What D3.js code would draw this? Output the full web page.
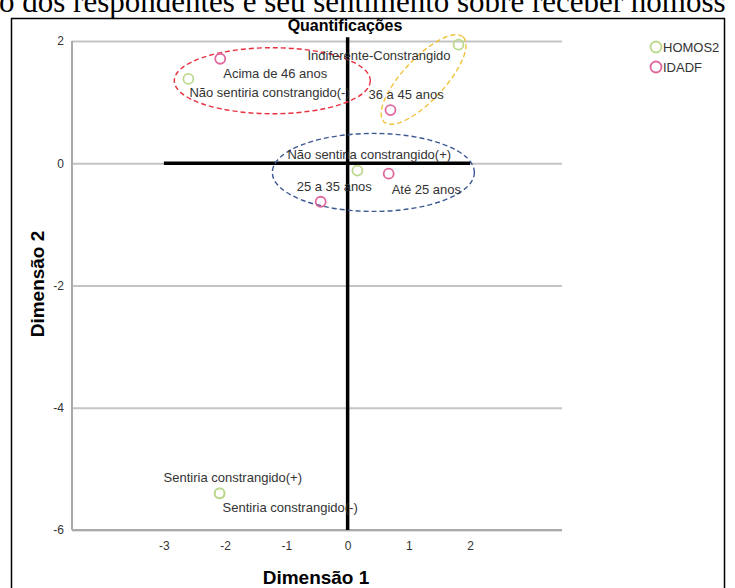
<!DOCTYPE html>
<html><head><meta charset="utf-8">
<script src="https://cdn.jsdelivr.net/npm/d3@7/dist/d3.min.js"></script>
<style>body{margin:0;background:#fff}svg{display:block}</style>
</head><body>
<svg id="c" width="735" height="588"></svg>
<script>
// ---- data ----
const homosLabels = ["Não sentiria constrangido(+)", "Não sentiria constrangido(-)", "Indiferente-Constrangido", "Sentiria constrangido(-)", "Sentiria constrangido(+)"];
const homosDim1 = [0.16, -2.60, 1.81, -2.09, -2.09];
const homosDim2 = [-0.12, 1.38, 1.94, -5.40, -5.40];
const idadLabels = ["Até 25 anos", "25 a 35 anos", "36 a 45 anos", "Acima de 46 anos"];
const idadDim1 = [0.67, -0.44, 0.70, -2.08];
const idadDim2 = [-0.17, -0.63, 0.87, 1.71];
const seriesNames = ["HOMOS2", "IDADF"];
const xTicks = [-3, -2, -1, 0, 1, 2];
const yTicks = [-6, -4, -2, 0, 2];

// ---- styles / label placement (pixels) ----
const colors = {HOMOS2: "#bcd98e", IDADF: "#e0689f"};
const homosOff = [[-70,-12],[1,18],[-151,15],[3,19],[-56,-11]];
const idadOff = [[3,20],[-24,-11],[-22,-11],[3,19]];
const sans = "Liberation Sans, Arial, sans-serif";

const svg = d3.select("#c");
const x = d3.scaleLinear().domain([-4.5, 3.5]).range([72, 562]);
const y = d3.scaleLinear().domain([-6, 2]).range([530, 41]);
const fmt = d => String(d);

// header text (cut off)
svg.append("text").attr("x", -1).attr("y", 12)
  .attr("font-family", "Liberation Serif, Times New Roman, serif").attr("font-size", 31)
  .attr("fill", "#000").text("o dos respondentes e seu sentimento sobre receber homoss");

// frame box
svg.append("rect").attr("x", 11.5).attr("y", 18.5).attr("width", 713).attr("height", 600)
  .attr("fill", "none").attr("stroke", "#000").attr("stroke-width", 1.5);

// gridlines + y axis
const yAxis = svg.append("g").attr("transform", `translate(${x.range()[0]},0)`)
  .call(d3.axisLeft(y).tickValues(yTicks).tickSize(-(x.range()[1]-x.range()[0])).tickPadding(8).tickFormat(fmt));
yAxis.select(".domain").remove();
yAxis.selectAll(".tick line").attr("stroke", "#c4c4c4").attr("stroke-width", 2);
yAxis.selectAll(".tick text").attr("font-family", sans).attr("font-size", 12).attr("fill", "#333");

const xAxis = svg.append("g").attr("transform", `translate(0,${y(-6)})`)
  .call(d3.axisBottom(x).tickValues(xTicks).tickSize(0).tickPadding(11).tickFormat(fmt));
xAxis.select(".domain").remove();
xAxis.selectAll(".tick text").attr("font-family", sans).attr("font-size", 12).attr("fill", "#333");

// axis lines (left + bottom)
svg.append("line").attr("x1", x(-4.5)).attr("x2", x(-4.5)).attr("y1", y(2)).attr("y2", y(-6))
  .attr("stroke", "#aaa").attr("stroke-width", 2);
svg.append("line").attr("x1", x(-4.5)).attr("x2", x(3.5)).attr("y1", y(-6)).attr("y2", y(-6))
  .attr("stroke", "#aaa").attr("stroke-width", 2);

// reference lines
svg.append("line").attr("x1", x(-3)).attr("x2", x(2)).attr("y1", y(0)).attr("y2", y(0))
  .attr("stroke", "#000").attr("stroke-width", 3.5);
svg.append("line").attr("x1", x(0)).attr("x2", x(0)).attr("y1", y(2.06)).attr("y2", y(-6))
  .attr("stroke", "#000").attr("stroke-width", 3.5);

// ellipses (annotations)
const ell = svg.append("g").attr("fill", "none").attr("stroke-width", 1.4).attr("stroke-dasharray", "5,3");
ell.append("ellipse").attr("cx", x(-1.23)).attr("cy", y(1.35)).attr("rx", 98).attr("ry", 33).attr("stroke", "#e8303f");
ell.append("ellipse").attr("cx", 0).attr("cy", 0).attr("rx", 58).attr("ry", 21).attr("stroke", "#f0c23a")
  .attr("transform", `translate(${x(1.24)},${y(1.37)}) rotate(-47)`);
ell.append("ellipse").attr("cx", x(0.42)).attr("cy", y(-0.15)).attr("rx", 101).attr("ry", 39).attr("stroke", "#3d5894");

// points & labels
const pts = [];
homosLabels.forEach((l, i) => pts.push({s: "HOMOS2", label: l, d1: homosDim1[i], d2: homosDim2[i], off: homosOff[i]}));
idadLabels.forEach((l, i) => pts.push({s: "IDADF", label: l, d1: idadDim1[i], d2: idadDim2[i], off: idadOff[i]}));

svg.append("g").selectAll("circle").data(pts).join("circle")
  .attr("cx", d => x(d.d1)).attr("cy", d => y(d.d2)).attr("r", 5)
  .attr("fill", "none").attr("stroke", d => colors[d.s]).attr("stroke-width", 1.8);

svg.append("g").selectAll("text").data(pts).join("text")
  .attr("x", d => x(d.d1) + d.off[0]).attr("y", d => y(d.d2) + d.off[1])
  .attr("font-family", sans).attr("font-size", 13).attr("fill", "#333")
  .text(d => d.label);

// title
svg.append("text").attr("x", 345).attr("y", 31).attr("text-anchor", "middle")
  .attr("font-family", sans).attr("font-weight", "bold").attr("font-size", 16)
  .text("Quantificações");

// axis titles
svg.append("text").attr("x", 316).attr("y", 584).attr("text-anchor", "middle")
  .attr("font-family", sans).attr("font-weight", "bold").attr("font-size", 19)
  .text("Dimensão 1");
svg.append("text").attr("transform", `translate(44,284) rotate(-90)`).attr("text-anchor", "middle")
  .attr("font-family", sans).attr("font-weight", "bold").attr("font-size", 19)
  .text("Dimensão 2");

// legend
const lg = svg.append("g").selectAll("g").data(seriesNames).join("g")
  .attr("transform", (d, i) => `translate(656,${47 + i * 20})`);
lg.append("circle").attr("r", 5.5).attr("fill", "none").attr("stroke", d => colors[d]).attr("stroke-width", 1.8);
lg.append("text").attr("x", 7).attr("y", 5).attr("font-family", sans)
  .attr("font-size", 13).attr("fill", "#333").text(d => d);
</script>
</body></html>
